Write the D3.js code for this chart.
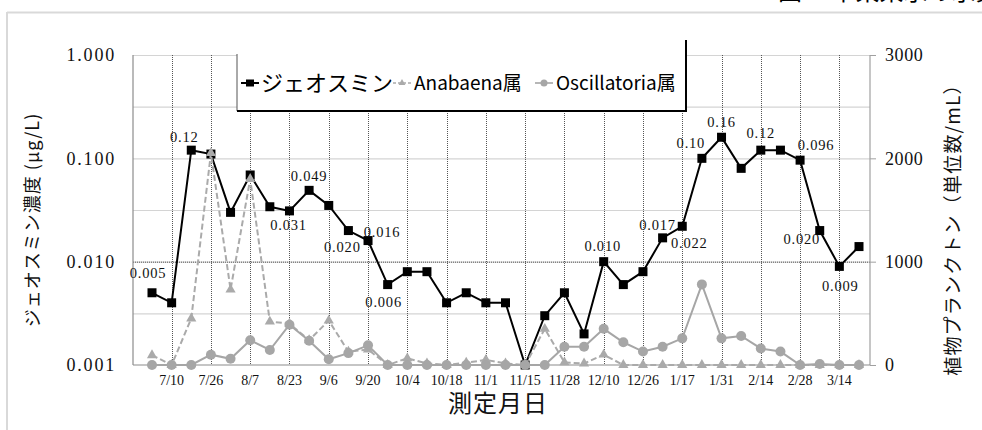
<!DOCTYPE html>
<html><head><meta charset="utf-8">
<script src="https://cdn.jsdelivr.net/npm/d3@7"></script>
<style>
html,body{margin:0;padding:0;background:#fff;}
svg{display:block;}
</style></head>
<body>
<svg id="c" width="982" height="430"></svg>
<script>
// ---- data ----
const tickLabels = ["7/10","7/26","8/7","8/23","9/6","9/20","10/4","10/18","11/1","11/15","11/28","12/10","12/26","1/17","1/31","2/14","2/28","3/14"];
const geosmin = [0.005,0.004,0.12,0.11,0.030,0.069,0.034,0.031,0.049,0.035,0.020,0.016,0.006,0.008,0.008,0.004,0.005,0.004,0.004,0.001,0.003,0.005,0.002,0.010,0.006,0.008,0.017,0.022,0.10,0.16,0.080,0.12,0.12,0.096,0.020,0.009,0.014];
const anabaena = [95,0,450,2050,730,1800,420,400,240,430,130,150,0,65,15,0,22,50,15,0,350,25,15,100,0,0,0,0,0,0,0,0,0,0,0,0,0];
const oscillatoria = [0,0,0,100,60,240,145,390,235,55,115,190,0,0,0,0,0,0,0,0,0,177,177,350,220,130,177,258,780,258,281,160,130,0,10,0,0];
const geoLabelIdx = [0,2,7,8,10,11,12,23,26,27,28,29,31,33,34,35];
const geoLabelText = ["0.005","0.12","0.031","0.049","0.020","0.016","0.006","0.010","0.017","0.022","0.10","0.16","0.12","0.096","0.020","0.009"];
const leftTicks = [0.001,0.01,0.1,1];
const leftTickText = ["0.001","0.010","0.100","1.000"];
const rightTicks = [0,1000,2000,3000];
const rightGrid = [500,1000,1500,2000,2500,3000];
const legendNames = ["ジェオスミン","Anabaena属","Oscillatoria属"];

// ---- layout ----
const svg = d3.select("#c");
const L = 133, R = 870, T = 55, B = 365;
const x = d3.scalePoint().domain(d3.range(geosmin.length)).range([152, 859]);
const yL = d3.scaleLog().domain([0.001, 1]).range([B, T]);
const yR = d3.scaleLinear().domain([0, 3000]).range([B, T]);
const serif = "'Liberation Serif','DejaVu Serif',serif";
const jp = "'Noto Sans CJK JP','Noto Sans',sans-serif";
const grayS = "#a6a6a6";

// frame
svg.append("line").attr("x1",7).attr("x2",982).attr("y1",12.5).attr("y2",12.5).attr("stroke","#d9d9d9").attr("stroke-width",2);
svg.append("line").attr("x1",7).attr("x2",7).attr("y1",12).attr("y2",430).attr("stroke","#d9d9d9").attr("stroke-width",2);
// clipped title (only the bottom edge is visible in the reference)
svg.append("text").attr("x",778).attr("y",0).attr("font-family",jp).attr("font-size",24).attr("fill","#000").text("図７ 中東某水の水質推移");

// grid
const g = svg.append("g");
g.selectAll("line.hg").data(rightGrid).join("line")
  .attr("x1",L).attr("x2",R).attr("y1",d=>yR(d)+0.5).attr("y2",d=>yR(d)+0.5)
  .attr("stroke","#d4d4d4").attr("stroke-width",1.2);
g.append("line").attr("x1",L).attr("x2",R).attr("y1",yL(0.01)+0.5).attr("y2",yL(0.01)+0.5)
  .attr("stroke","#555").attr("stroke-width",1).attr("stroke-dasharray","1,1");
const tickIdx = tickLabels.map((d,i)=>1+2*i);
g.selectAll("line.vg").data(tickIdx).join("line")
  .attr("x1",d=>Math.round(x(d))+0.5).attr("x2",d=>Math.round(x(d))+0.5).attr("y1",T).attr("y2",B)
  .attr("stroke","#555").attr("stroke-width",1).attr("stroke-dasharray","1,1");

// axes lines
svg.append("line").attr("x1",L).attr("x2",L).attr("y1",T).attr("y2",B).attr("stroke","#8c8c8c").attr("stroke-width",1.2);
svg.append("line").attr("x1",R).attr("x2",R).attr("y1",T).attr("y2",B).attr("stroke","#a0a0a0").attr("stroke-width",1.2);
svg.append("line").attr("x1",L).attr("x2",R).attr("y1",B).attr("y2",B).attr("stroke","#8c8c8c").attr("stroke-width",1.2);

// left axis ticks
svg.selectAll("text.lt").data(leftTicks).join("text")
  .attr("x",116).attr("y",d=>yL(d)).attr("dy","0.35em").attr("text-anchor","end")
  .attr("font-family",serif).attr("font-size",18).attr("letter-spacing",1.8).attr("fill","#111")
  .text((d,i)=>leftTickText[i]);
// right axis
const rAxis = d3.axisRight(yR).tickValues(rightTicks).tickSize(6).tickPadding(9).tickFormat(d3.format("d"));
const ra = svg.append("g").attr("transform",`translate(${R},0)`).call(rAxis);
ra.select(".domain").remove();
ra.selectAll(".tick line").attr("stroke","#a0a0a0");
ra.selectAll(".tick text").attr("font-family",serif).attr("font-size",18).attr("fill","#111").attr("letter-spacing",0.6);
// x tick labels
svg.selectAll("text.xt").data(tickIdx).join("text")
  .attr("x",d=>x(d)).attr("y",385).attr("text-anchor","middle")
  .attr("font-family",serif).attr("font-size",14).attr("fill","#111")
  .text((d,i)=>tickLabels[i]);

// axis titles
svg.append("text").attr("transform","translate(39,220) rotate(-90)").attr("text-anchor","middle")
  .attr("font-family",jp).attr("font-size",18).attr("letter-spacing",1).attr("fill","#111").text("ジェオスミン濃度 (μg/L)");
svg.append("text").attr("transform","translate(960,225) rotate(-90)").attr("text-anchor","middle")
  .attr("font-family",jp).attr("font-size",19).attr("letter-spacing",1.2).attr("fill","#111").text("植物プランクトン（単位数/mL）");
svg.append("text").attr("x",498).attr("y",412).attr("text-anchor","middle")
  .attr("font-family",jp).attr("font-size",24).attr("letter-spacing",1).attr("fill","#111").text("測定月日");

// series
const idx = d3.range(geosmin.length);
const lineG = d3.line().x(i=>x(i)).y(i=>yL(geosmin[i]));
const lineA = d3.line().x(i=>x(i)).y(i=>yR(anabaena[i]));
const lineO = d3.line().x(i=>x(i)).y(i=>yR(oscillatoria[i]));

svg.append("path").attr("d",lineG(idx)).attr("fill","none").attr("stroke","#000").attr("stroke-width",2);
svg.selectAll("rect.gm").data(idx).join("rect")
  .attr("x",i=>x(i)-4.5).attr("y",i=>yL(geosmin[i])-4.5).attr("width",9).attr("height",9).attr("fill","#000");

svg.append("path").attr("d",lineA(idx)).attr("fill","none").attr("stroke","#aaaaaa").attr("stroke-width",2).attr("stroke-dasharray","6,3");
const tri = d3.symbol().type(d3.symbolTriangle).size(45);
svg.selectAll("path.am").data(idx).join("path")
  .attr("transform",i=>`translate(${x(i)},${yR(anabaena[i])})`).attr("d",tri()).attr("fill","#aaaaaa");

svg.append("path").attr("d",lineO(idx)).attr("fill","none").attr("stroke",grayS).attr("stroke-width",2);
svg.selectAll("circle.om").data(idx).join("circle")
  .attr("cx",i=>x(i)).attr("cy",i=>yR(oscillatoria[i])).attr("r",5).attr("fill",grayS);

// data labels
const lblPos = {0:[-4,-20],2:[-7,-13],7:[-1,14],8:[0,-14],10:[-6,16],11:[14,-9],12:[-4,17],23:[-1,-16],26:[-5,-13],27:[7,17],28:[-11,-15],29:[0,-15],31:[0,-17],33:[16,-15],34:[-18,8],35:[1,20]};
svg.selectAll("text.dl").data(geoLabelIdx).join("text")
  .attr("x",i=>x(i)+lblPos[i][0]).attr("y",i=>yL(geosmin[i])+lblPos[i][1]).attr("dy","0.35em")
  .attr("text-anchor","middle").attr("font-family",serif).attr("font-size",14.5).attr("letter-spacing",0.8).attr("fill","#111")
  .text((d,i)=>geoLabelText[i]);

// legend
const lg = svg.append("g");
lg.append("rect").attr("x",237).attr("y",54).attr("width",449).attr("height",57).attr("fill","#fff");
lg.append("line").attr("x1",237).attr("x2",237).attr("y1",54).attr("y2",111).attr("stroke","#555").attr("stroke-width",1);
lg.append("line").attr("x1",686).attr("x2",686).attr("y1",40).attr("y2",112).attr("stroke","#000").attr("stroke-width",2);
lg.append("line").attr("x1",237).attr("x2",687).attr("y1",111).attr("y2",111).attr("stroke","#000").attr("stroke-width",2);
const ly = 83;
lg.append("line").attr("x1",241).attr("x2",259).attr("y1",ly).attr("y2",ly).attr("stroke","#000").attr("stroke-width",2);
lg.append("rect").attr("x",246).attr("y",ly-3.5).attr("width",8).attr("height",7).attr("fill","#000");
lg.append("text").attr("x",261).attr("y",ly).attr("dy","0.35em").attr("font-family",jp).attr("font-size",22).attr("fill","#000").text(legendNames[0]);
lg.append("line").attr("x1",393).attr("x2",411).attr("y1",ly).attr("y2",ly).attr("stroke","#aaaaaa").attr("stroke-width",1.6).attr("stroke-dasharray","3,2");
lg.append("path").attr("transform",`translate(402,${ly})`).attr("d",d3.symbol().type(d3.symbolTriangle).size(20)()).attr("fill","#aaaaaa");
lg.append("text").attr("x",414).attr("y",ly).attr("dy","0.35em").attr("font-family",jp).attr("font-size",19).attr("fill","#000").text(legendNames[1]);
lg.append("line").attr("x1",535).attr("x2",553).attr("y1",ly).attr("y2",ly).attr("stroke",grayS).attr("stroke-width",1.6);
lg.append("circle").attr("cx",544).attr("cy",ly).attr("r",3.5).attr("fill",grayS);
lg.append("text").attr("x",556).attr("y",ly).attr("dy","0.35em").attr("font-family",jp).attr("font-size",19).attr("fill","#000").text(legendNames[2]);
</script>
</body></html>
